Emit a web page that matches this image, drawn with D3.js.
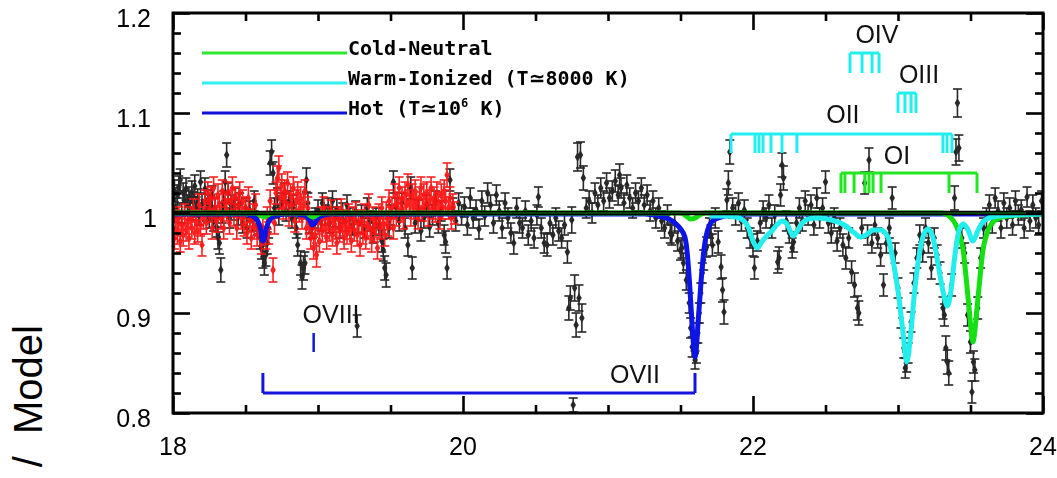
<!DOCTYPE html>
<html>
<head>
<meta charset="utf-8">
<script src="https://cdn.jsdelivr.net/npm/d3@7"></script>
<style>
  html, body { margin: 0; padding: 0; background: #fff; }
  svg { display: block; }
</style>
</head>
<body>
<svg id="chart" width="1057" height="478"></svg>
<script>
// ---- Observed ratio points: [wavelength (Å), data/model, 1-sigma error] ----
const obsBlack = [
[18.00,1.015,.010],[18.01,1.022,.011],[18.02,1.005,.010],[18.03,1.018,.010],[18.04,1.026,.011],[18.05,1.033,.011],[18.06,1.000,.010],[18.07,1.020,.010],[18.08,1.012,.010],[18.09,1.024,.011],
[18.10,1.008,.010],[18.11,1.016,.010],[18.12,1.003,.010],[18.13,1.021,.011],[18.14,1.011,.010],[18.15,1.027,.011],[18.16,1.006,.010],[18.17,1.014,.010],[18.18,0.998,.010],[18.19,1.031,.011],
[18.20,1.009,.010],[18.22,1.024,.011],[18.23,1.002,.010],[18.24,1.013,.010],[18.25,0.995,.010],[18.26,1.008,.010],[18.27,1.017,.010],[18.28,0.992,.010],[18.29,1.005,.010],[18.30,0.986,.010],
[18.31,0.975,.011],[18.32,0.970,.011],[18.33,0.943,.012],[18.34,1.000,.010],[18.35,1.012,.010],[18.36,1.031,.011],[18.37,1.058,.012],[18.38,1.020,.010],[18.39,0.995,.010],[18.40,1.008,.010],
[18.42,1.003,.010],[18.43,1.015,.010],[18.45,0.998,.010],[18.46,1.010,.010],[18.48,0.990,.010],[18.50,1.005,.010],[18.51,0.985,.010],[18.53,1.002,.010],[18.55,0.992,.010],[18.56,1.012,.010],
[18.58,0.988,.010],[18.60,0.975,.011],[18.61,0.965,.011],[18.62,0.956,.011],[18.63,0.950,.012],[18.64,0.958,.011],[18.65,0.970,.011],[18.66,0.985,.010],[18.67,1.050,.012],[18.68,1.061,.012],
[18.69,1.040,.011],[18.70,1.005,.010],[18.72,1.015,.010],[18.73,0.998,.010],[18.75,1.010,.010],[18.77,1.020,.010],[18.78,1.002,.010],[18.80,1.012,.010],[18.82,0.995,.010],[18.83,1.008,.010],
[18.85,0.985,.010],[18.86,0.968,.011],[18.88,0.950,.012],[18.89,0.936,.012],[18.90,0.945,.012],[18.91,0.950,.011],[18.92,1.033,.012],[18.93,1.010,.010],[18.94,0.990,.010],[18.96,0.985,.010],
[18.98,0.995,.010],[19.00,1.003,.010],[19.02,0.992,.010],[19.03,1.010,.010],[19.05,0.998,.010],[19.07,1.005,.010],[19.08,0.990,.010],[19.10,1.012,.010],[19.12,0.996,.010],[19.13,1.004,.010],
[19.15,0.985,.010],[19.17,1.000,.010],[19.19,0.992,.010],[19.20,1.008,.010],[19.22,0.995,.010],[19.24,0.988,.010],[19.26,1.002,.010],[19.27,0.887,.011],[19.28,0.990,.010],[19.30,0.998,.010],
[19.32,0.985,.010],[19.34,1.005,.010],[19.36,0.992,.010],[19.38,0.980,.010],[19.40,0.995,.010],[19.42,0.988,.010],[19.44,0.972,.011],[19.45,0.963,.011],[19.46,0.945,.012],[19.47,0.938,.012],
[19.49,0.985,.010],[19.50,0.998,.010],[19.52,1.031,.011],[19.54,1.005,.010],[19.56,0.992,.010],[19.58,1.010,.010],[19.60,0.985,.010],[19.62,0.968,.011],[19.64,1.025,.011],[19.65,0.945,.011],
[19.67,0.990,.010],[19.69,1.003,.010],[19.71,0.982,.010],[19.73,0.995,.010],[19.75,1.008,.010],[19.77,0.986,.010],[19.79,0.998,.010],[19.81,1.012,.010],[19.83,0.990,.010],[19.85,1.002,.010],
[19.87,0.978,.010],[19.88,0.971,.011],[19.89,0.945,.011],[19.91,1.033,.011],[19.93,1.005,.010],[19.95,0.992,.010],[19.97,1.010,.010],[19.99,0.998,.010],[20.01,1.006,.010],[20.03,0.988,.010],
[20.05,1.015,.010],[20.07,0.995,.010],[20.09,1.003,.010],[20.11,0.984,.010],[20.13,1.012,.010],[20.15,0.997,.010],[20.17,1.020,.010],[20.19,1.008,.010],[20.21,0.990,.010],[20.23,1.018,.010],
[20.25,1.002,.010],[20.27,0.985,.010],[20.29,1.010,.010],[20.31,0.995,.010],[20.33,0.980,.010],[20.35,0.970,.011],[20.37,1.005,.010],[20.39,0.990,.010],[20.41,0.985,.010],[20.43,1.002,.010],
[20.45,0.978,.010],[20.47,0.992,.010],[20.49,0.975,.010],[20.51,0.998,.010],[20.52,1.016,.010],[20.54,0.985,.010],[20.56,0.970,.010],[20.58,0.968,.011],[20.60,0.990,.010],[20.62,0.978,.010],
[20.64,0.995,.010],[20.66,0.982,.010],[20.68,0.975,.010],[20.70,0.988,.010],[20.72,0.961,.011],[20.73,0.905,.012],[20.74,0.915,.012],[20.75,0.993,.013],[20.76,0.808,.007],[20.77,0.925,.013],
[20.78,0.888,.012],[20.79,1.056,.014],[20.80,0.915,.013],[20.81,1.058,.013],[20.82,0.895,.014],[20.83,1.035,.012],[20.85,1.005,.010],[20.87,1.012,.010],[20.89,1.000,.010],[20.91,1.020,.010],
[20.93,1.008,.010],[20.95,1.025,.010],[20.97,1.012,.010],[20.99,1.030,.010],[21.01,1.015,.010],[21.03,1.022,.010],[21.05,1.032,.011],[21.07,1.018,.010],[21.08,1.038,.011],[21.09,1.025,.010],
[21.11,1.010,.010],[21.13,1.028,.010],[21.15,1.015,.010],[21.17,1.005,.010],[21.19,1.020,.010],[21.21,1.012,.010],[21.23,1.025,.010],[21.25,1.008,.010],[21.27,1.018,.010],[21.29,1.002,.010],
[21.31,1.012,.010],[21.33,0.995,.010],[21.35,1.005,.010],[21.37,0.992,.010],[21.39,0.985,.010],[21.41,0.998,.010],[21.43,0.980,.010],[21.44,0.978,.010],[21.46,0.990,.010],[21.48,0.972,.010],
[21.50,0.963,.010],[21.51,0.965,.010],[21.52,0.950,.010],[21.54,0.933,.010],[21.56,0.910,.010],[21.57,0.885,.010],[21.58,0.866,.010],[21.60,0.853,.009],[21.61,0.860,.010],[21.62,0.880,.010],
[21.63,0.900,.010],[21.64,0.920,.010],[21.65,0.940,.010],[21.66,0.953,.010],[21.68,0.966,.010],[21.70,0.985,.010],[21.71,0.978,.010],[21.72,0.968,.011],[21.74,0.995,.010],[21.76,0.971,.011],
[21.78,0.946,.012],[21.79,0.923,.012],[21.80,0.901,.012],[21.82,1.013,.011],[21.83,1.030,.012],[21.84,1.061,.012],[21.86,1.005,.010],[21.88,0.998,.010],[21.90,1.010,.010],[21.92,0.992,.010],
[21.94,1.003,.010],[21.96,0.985,.010],[21.98,0.975,.010],[22.00,0.968,.011],[22.01,0.945,.011],[22.03,0.972,.010],[22.05,0.990,.010],[22.07,1.002,.010],[22.09,0.995,.010],[22.11,1.008,.010],
[22.13,0.985,.010],[22.15,0.998,.010],[22.17,0.951,.011],[22.18,0.955,.011],[22.19,1.018,.011],[22.20,1.048,.012],[22.21,1.035,.012],[22.23,0.992,.010],[22.25,0.980,.010],[22.27,0.965,.010],
[22.28,0.971,.010],[22.30,0.990,.010],[22.32,1.005,.010],[22.34,0.992,.010],[22.36,1.012,.010],[22.38,0.998,.010],[22.40,1.008,.010],[22.42,0.988,.010],[22.44,1.015,.010],[22.46,0.995,.010],
[22.48,1.005,.010],[22.50,1.031,.011],[22.52,0.990,.010],[22.54,0.980,.010],[22.56,0.995,.010],[22.58,0.972,.010],[22.60,0.985,.010],[22.62,0.968,.011],[22.64,0.955,.011],[22.66,0.975,.010],
[22.68,0.941,.011],[22.70,0.928,.012],[22.72,0.905,.012],[22.73,0.900,.012],[22.75,0.985,.010],[22.77,1.030,.011],[22.79,0.978,.010],[22.80,1.053,.012],[22.82,0.970,.010],[22.84,0.988,.010],
[22.86,0.975,.010],[22.88,0.958,.011],[22.90,0.928,.011],[22.92,0.970,.010],[22.94,0.985,.010],[22.96,1.015,.011],[22.98,0.960,.010],[23.00,0.925,.010],[23.02,0.895,.010],[23.04,0.865,.010],
[23.05,0.845,.010],[23.06,0.851,.010],[23.07,0.860,.010],[23.09,0.891,.010],[23.11,0.930,.010],[23.13,0.955,.010],[23.15,0.978,.010],[23.17,0.961,.010],[23.19,0.985,.010],[23.21,0.970,.010],
[23.23,0.945,.011],[23.25,0.975,.010],[23.27,0.958,.010],[23.29,0.940,.011],[23.31,0.905,.011],[23.32,0.898,.011],[23.33,0.865,.012],[23.34,0.851,.012],[23.35,0.840,.012],[23.37,0.928,.011],
[23.39,1.015,.012],[23.40,1.061,.013],[23.41,1.110,.014],[23.42,1.065,.013],[23.44,0.975,.010],[23.46,0.960,.010],[23.48,0.898,.011],[23.50,0.871,.011],[23.51,0.821,.011],[23.52,0.851,.011],
[23.53,0.843,.011],[23.55,0.905,.011],[23.57,0.955,.010],[23.59,0.985,.010],[23.61,0.995,.010],[23.63,1.008,.010],[23.65,0.990,.010],[23.67,1.015,.010],[23.69,1.002,.010],[23.71,0.985,.010],
[23.73,1.010,.010],[23.75,0.995,.010],[23.77,1.005,.010],[23.79,0.988,.010],[23.81,1.012,.010],[23.83,0.998,.010],[23.85,1.003,.010],[23.87,0.985,.010],[23.89,1.016,.010],[23.91,0.992,.010],
[23.93,1.008,.010],[23.95,0.995,.010],[23.97,0.988,.010],[23.99,1.012,.010]
];

const obsRed = [
[18.00,0.985,.011],[18.01,0.975,.011],[18.02,0.992,.011],[18.03,0.980,.011],[18.04,0.995,.011],[18.05,0.972,.011],[18.06,0.988,.011],[18.07,0.978,.011],[18.08,0.998,.011],[18.09,0.983,.011],
[18.10,0.990,.011],[18.11,0.975,.011],[18.12,0.995,.011],[18.13,0.985,.011],[18.14,1.003,.011],[18.15,0.980,.011],[18.16,0.992,.011],[18.17,0.982,.011],[18.18,1.008,.011],[18.19,0.988,.011],
[18.20,0.968,.011],[18.21,0.995,.011],[18.22,1.012,.011],[18.23,0.990,.011],[18.24,1.020,.011],[18.25,1.002,.011],[18.26,1.015,.011],[18.27,0.985,.011],[18.28,1.025,.011],[18.29,1.005,.011],
[18.30,0.992,.011],[18.31,1.018,.011],[18.32,1.008,.011],[18.33,0.995,.011],[18.34,1.022,.011],[18.35,0.985,.011],[18.36,1.010,.011],[18.37,1.003,.011],[18.38,1.020,.011],[18.39,0.990,.011],
[18.40,1.012,.011],[18.41,1.025,.011],[18.42,0.998,.011],[18.43,1.015,.011],[18.44,0.985,.011],[18.45,1.008,.011],[18.46,1.020,.011],[18.47,0.995,.011],[18.48,1.012,.011],[18.49,0.988,.011],
[18.50,1.005,.011],[18.51,0.980,.011],[18.52,1.015,.011],[18.53,0.992,.011],[18.54,0.975,.011],[18.55,0.998,.011],[18.56,0.985,.011],[18.57,1.008,.011],[18.58,0.978,.011],[18.59,0.990,.011],
[18.61,0.970,.011],[18.62,0.985,.011],[18.64,0.975,.011],[18.65,0.995,.011],[18.66,0.980,.011],[18.67,1.012,.011],[18.69,0.943,.012],[18.70,0.990,.011],[18.71,1.020,.011],[18.72,1.035,.012],
[18.73,1.045,.012],[18.74,1.015,.011],[18.75,1.028,.011],[18.76,1.005,.011],[18.77,1.022,.011],[18.78,1.010,.011],[18.79,1.030,.011],[18.80,0.998,.011],[18.81,1.018,.011],[18.82,1.008,.011],
[18.83,1.025,.011],[18.84,0.992,.011],[18.85,1.012,.011],[18.86,1.020,.011],[18.87,1.002,.011],[18.88,1.015,.011],[18.89,0.995,.011],[18.90,1.008,.011],[18.91,1.022,.011],[18.92,0.985,.011],
[18.93,1.005,.011],[18.94,0.990,.011],[18.95,0.975,.011],[18.96,0.985,.011],[18.97,0.965,.011],[18.98,0.978,.011],[18.99,0.958,.012],[19.00,0.990,.011],[19.01,0.972,.011],[19.02,0.995,.011],
[19.03,0.982,.011],[19.04,1.005,.011],[19.05,0.988,.011],[19.06,0.975,.011],[19.07,0.995,.011],[19.08,0.983,.011],[19.09,1.002,.011],[19.10,0.978,.011],[19.11,0.992,.011],[19.12,0.985,.011],
[19.13,0.970,.011],[19.14,0.995,.011],[19.15,0.982,.011],[19.16,1.003,.011],[19.17,0.988,.011],[19.18,0.975,.011],[19.19,0.992,.011],[19.20,0.980,.011],[19.21,0.998,.011],[19.22,0.985,.011],
[19.23,0.972,.011],[19.24,0.995,.011],[19.25,0.983,.011],[19.26,1.000,.011],[19.27,0.978,.011],[19.28,0.990,.011],[19.29,0.968,.011],[19.30,0.992,.011],[19.31,0.980,.011],[19.32,0.998,.011],
[19.33,0.975,.011],[19.34,0.988,.011],[19.35,1.008,.011],[19.36,0.985,.011],[19.37,0.972,.011],[19.38,0.995,.011],[19.39,0.982,.011],[19.40,0.990,.011],[19.41,0.965,.011],[19.42,0.998,.011],
[19.43,0.985,.011],[19.44,1.005,.011],[19.45,0.990,.011],[19.46,0.978,.011],[19.47,1.000,.011],[19.48,0.988,.011],[19.49,1.012,.011],[19.50,0.995,.011],[19.51,1.005,.011],[19.52,0.985,.011],
[19.53,1.018,.011],[19.54,0.998,.011],[19.55,1.010,.011],[19.56,1.025,.011],[19.57,1.002,.011],[19.58,1.015,.011],[19.59,0.995,.011],[19.60,1.020,.011],[19.61,1.008,.011],[19.62,1.028,.011],
[19.63,1.012,.011],[19.64,0.998,.011],[19.65,1.018,.011],[19.66,1.005,.011],[19.67,1.022,.011],[19.68,1.010,.011],[19.69,0.995,.011],[19.70,1.015,.011],[19.71,1.025,.011],[19.72,1.003,.011],
[19.73,1.018,.011],[19.74,1.008,.011],[19.75,1.020,.011],[19.76,0.998,.011],[19.77,1.012,.011],[19.78,1.025,.011],[19.79,1.005,.011],[19.80,1.015,.011],[19.81,1.002,.011],[19.82,1.020,.011],
[19.83,1.010,.011],[19.84,0.995,.011],[19.85,1.018,.011],[19.86,1.005,.011],[19.87,1.022,.011],[19.88,1.012,.011],[19.89,1.038,.012],[19.90,1.005,.011],[19.91,1.015,.011],[19.92,0.995,.011],
[19.93,1.008,.011],[19.94,1.000,.011]
];

// ---- Model components: [wavelength (Å), transmission] ----
const hotModel = [
[18.00,0.999],[18.50,0.999],[18.55,0.997],[18.58,0.993],[18.60,0.986],[18.61,0.979],[18.62,0.972],[18.63,0.974],[18.64,0.982],[18.655,0.990],
[18.68,0.995],[18.72,0.998],[18.80,0.999],[18.90,0.998],[18.93,0.995],[18.95,0.991],[18.96,0.988],[18.975,0.989],[18.99,0.993],[19.02,0.997],
[19.08,0.999],[21.25,0.999],[21.35,0.997],[21.42,0.994],[21.47,0.989],[21.50,0.984],[21.53,0.976],[21.545,0.962],[21.56,0.935],[21.575,0.900],
[21.59,0.868],[21.60,0.856],[21.61,0.866],[21.62,0.888],[21.635,0.918],[21.65,0.946],[21.665,0.967],[21.68,0.979],[21.70,0.988],[21.73,0.993],
[21.78,0.996],[21.86,0.998],[22.00,0.999],[24.00,0.999]
];
const warmModel = [
[21.70,0.997],[21.80,0.997],[21.88,0.996],[21.93,0.993],[21.97,0.985],[22.00,0.972],[22.03,0.965],[22.06,0.971],[22.10,0.978],[22.13,0.982],
[22.17,0.989],[22.20,0.992],[22.235,0.989],[22.26,0.981],[22.278,0.977],[22.30,0.981],[22.34,0.990],[22.38,0.994],[22.45,0.995],[22.54,0.993],
[22.63,0.988],[22.70,0.980],[22.74,0.976],[22.78,0.978],[22.83,0.983],[22.88,0.983],[22.93,0.976],[22.965,0.953],[23.00,0.922],[23.035,0.880],
[23.06,0.851],[23.085,0.875],[23.11,0.915],[23.14,0.952],[23.17,0.975],[23.205,0.984],[23.24,0.976],[23.275,0.950],[23.31,0.922],[23.34,0.907],
[23.365,0.922],[23.39,0.955],[23.42,0.982],[23.45,0.989],[23.48,0.984],[23.517,0.972],[23.55,0.982],[23.585,0.991],[23.65,0.996],[23.80,0.998],
[24.00,0.999]
];
const coldModel = [
[18.00,1.000],[18.57,1.000],[18.61,0.997],[18.63,0.996],[18.65,0.998],[18.70,1.000],[18.92,1.000],[18.95,0.997],[18.97,0.996],[18.99,0.998],
[19.03,1.000],[21.50,1.000],[21.54,0.997],[21.57,0.994],[21.60,0.995],[21.63,0.998],[21.67,1.000],[23.30,1.000],[23.36,0.996],[23.40,0.988],
[23.43,0.975],[23.45,0.962],[23.47,0.935],[23.49,0.905],[23.505,0.882],[23.517,0.871],[23.53,0.882],[23.545,0.905],[23.565,0.935],[23.585,0.962],
[23.61,0.978],[23.65,0.990],[23.72,0.996],[23.85,0.998],[24.00,0.999]
];
const continuum = [[18.00,1.000],[24.00,1.000]];

// ---- Line identifications: wavelengths (Å) and bracket levels ----
const ovii = [18.62, 21.60];
const oviii = [18.97];
const oiv = [22.669, 22.752, 22.821, 22.869];
const oiii = [23.000, 23.048, 23.090, 23.124];
const oii = [21.848, 22.014, 22.041, 22.069, 22.124, 22.200, 22.303, 23.310, 23.338, 23.372];
const oi = [22.607, 22.634, 22.697, 22.772, 22.800, 22.828, 22.883, 23.352, 23.545];

const ionLabels = ["OVII", "OVIII", "OIV", "OIII", "OII", "OI"];
const ionLabelAt = [[21.186, 0.830], [19.090, 0.890], [22.855, 1.170], [23.145, 1.130], [22.620, 1.090], [22.993, 1.049]];

// ---- Axes ----
const xMajor = [18, 20, 22, 24];
const xMinor = [18.5, 19, 19.5, 20.5, 21, 21.5, 22.5, 23, 23.5];
const yMajor = [0.8, 0.9, 1.0, 1.1, 1.2];
const yMajorLabels = ["0.8", "0.9", "1", "1.1", "1.2"];
const yMinor = [0.82,0.84,0.86,0.88,0.92,0.94,0.96,0.98,1.02,1.04,1.06,1.08,1.12,1.14,1.16,1.18];

const legendNames = ["Cold-Neutral", "Warm-Ionized (T", "Hot (T"];
const legendTemps = ["", "8000 K)", "10"];
const legendColors = ["#2ee82e", "#2ef0f0", "#1010d8"];

// ---------------------------------------------------------------
const svg = d3.select("#chart");
const L = 173, R = 1043, T = 13, B = 413;
const x = d3.scaleLinear().domain([18, 24]).range([L, R]);
const y = d3.scaleLinear().domain([0.8, 1.2]).range([B, T]);

svg.append("rect").attr("width", 1057).attr("height", 478).attr("fill", "#fff");

svg.append("defs").append("clipPath").attr("id", "plotClip")
  .append("rect").attr("x", L).attr("y", T).attr("width", R - L).attr("height", B - T);

const plot = svg.append("g").attr("clip-path", "url(#plotClip)");

// error-bar points
function drawSeries(data, color, opacity, sw) {
  const g = plot.append("g").attr("stroke", color).attr("fill", color).attr("opacity", opacity);
  const cap = 4.5;
  const pts = g.selectAll("g.pt").data(data).join("g").attr("class", "pt");
  pts.append("line")
    .attr("x1", d => x(d[0])).attr("x2", d => x(d[0]))
    .attr("y1", d => y(d[1] - d[2])).attr("y2", d => y(d[1] + d[2]))
    .attr("stroke-width", sw);
  pts.append("line")
    .attr("x1", d => x(d[0]) - cap).attr("x2", d => x(d[0]) + cap)
    .attr("y1", d => y(d[1] + d[2])).attr("y2", d => y(d[1] + d[2]))
    .attr("stroke-width", sw);
  pts.append("line")
    .attr("x1", d => x(d[0]) - cap).attr("x2", d => x(d[0]) + cap)
    .attr("y1", d => y(d[1] - d[2])).attr("y2", d => y(d[1] - d[2]))
    .attr("stroke-width", sw);
  pts.append("path")
    .attr("transform", d => `translate(${x(d[0])},${y(d[1])})`)
    .attr("d", d3.symbol(d3.symbolDiamond, 26)())
    .attr("stroke", "none");
}
drawSeries(obsBlack, "#101010", 0.9, 1.6);
drawSeries(obsRed, "#ff1414", 0.95, 1.6);

// model curves
const line = d3.line().x(d => x(d[0])).y(d => y(d[1])).curve(d3.curveMonotoneX);
plot.append("path").datum(hotModel).attr("d", line)
  .attr("fill", "none").attr("stroke", "#0c14e6").attr("stroke-width", 5).attr("stroke-linejoin", "round");
plot.append("path").datum(coldModel).attr("d", line)
  .attr("fill", "none").attr("stroke", "#14e014").attr("stroke-width", 5).attr("stroke-linejoin", "round");
plot.append("path").datum(warmModel).attr("d", line)
  .attr("fill", "none").attr("stroke", "#22eeee").attr("stroke-width", 5).attr("stroke-linejoin", "round");
plot.append("path").datum(continuum).attr("d", line)
  .attr("fill", "none").attr("stroke", "#000").attr("stroke-width", 4.5);
plot.append("path").datum(continuum).attr("d", line)
  .attr("fill", "none").attr("stroke", "#0b5a12").attr("stroke-width", 1.4);

// identification brackets
function bracket(waves, level, tickEnd, color) {
  const g = svg.append("g").attr("stroke", color).attr("stroke-width", 3).attr("fill", "none");
  g.append("line").attr("x1", x(d3.min(waves))).attr("x2", x(d3.max(waves)))
    .attr("y1", y(level)).attr("y2", y(level));
  g.selectAll("line.t").data(waves).join("line").attr("class", "t")
    .attr("x1", d => x(d)).attr("x2", d => x(d))
    .attr("y1", y(level)).attr("y2", y(tickEnd));
}
bracket(ovii, 0.820, 0.840, "#1414e0");
bracket(oiv, 1.160, 1.140, "#22eeee");
bracket(oiii, 1.120, 1.100, "#22eeee");
bracket(oii, 1.079, 1.060, "#22eeee");
bracket(oi, 1.040, 1.020, "#22e622");
svg.append("line").attr("stroke", "#1414e0").attr("stroke-width", 2.5)
  .attr("x1", x(oviii[0])).attr("x2", x(oviii[0]))
  .attr("y1", y(0.861)).attr("y2", y(0.880));

svg.selectAll("text.ion").data(ionLabels).join("text").attr("class", "ion")
  .attr("x", (d, i) => x(ionLabelAt[i][0]))
  .attr("y", (d, i) => y(ionLabelAt[i][1]))
  .attr("text-anchor", "middle")
  .attr("font-family", "'Liberation Sans', Arial, sans-serif")
  .attr("font-size", 25).attr("fill", "#111")
  .text(d => d);

// legend
const lg = svg.append("g");
legendNames.forEach((name, i) => {
  const yy = 53 + i * 30;
  lg.append("line").attr("x1", 202).attr("x2", 347).attr("y1", yy).attr("y2", yy)
    .attr("stroke", legendColors[i]).attr("stroke-width", 3);
  const t = lg.append("text").attr("x", 348).attr("y", yy + 2)
    .attr("font-family", "'DejaVu Sans Mono', 'Liberation Mono', monospace")
    .attr("font-weight", "bold").attr("font-size", 20).attr("fill", "#000")
    .text(name);
  if (i > 0) {
    t.append("tspan").attr("font-family", "'DejaVu Sans', sans-serif").text("\u2243");
    t.append("tspan").text(legendTemps[i]);
  }
  if (i === 2) {
    t.append("tspan").attr("font-size", 12).attr("dy", -8).text("6");
    t.append("tspan").attr("dy", 8).text(" K)");
  }
});

// axes: ticks drawn inward on all four sides
function ticks(axisGen, values, size, tx, ty) {
  const g = svg.append("g").attr("transform", `translate(${tx},${ty})`)
    .call(axisGen.tickValues(values).tickSize(-size).tickFormat(""));
  g.select(".domain").remove();
  g.selectAll(".tick line").attr("stroke", "#000").attr("stroke-width", 2.6);
}
ticks(d3.axisBottom(x), xMajor, 17, 0, B);
ticks(d3.axisBottom(x), xMinor, 8, 0, B);
ticks(d3.axisTop(x), xMajor, 17, 0, T);
ticks(d3.axisTop(x), xMinor, 8, 0, T);
ticks(d3.axisLeft(y), yMajor, 17, L, 0);
ticks(d3.axisLeft(y), yMinor, 8, L, 0);
ticks(d3.axisRight(y), yMajor, 17, R, 0);
ticks(d3.axisRight(y), yMinor, 8, R, 0);

svg.append("rect").attr("x", L).attr("y", T).attr("width", R - L).attr("height", B - T)
  .attr("fill", "none").attr("stroke", "#000").attr("stroke-width", 3);

svg.selectAll("text.xl").data(xMajor).join("text").attr("class", "xl")
  .attr("x", d => x(d)).attr("y", 455).attr("text-anchor", "middle")
  .attr("font-family", "'Liberation Sans', Arial, sans-serif").attr("font-size", 25).attr("fill", "#000")
  .text(d => d);
// the lone "1" is set a little further right, as on the printed axis
svg.selectAll("text.yl").data(yMajor).join("text").attr("class", "yl")
  .attr("x", (d, i) => yMajorLabels[i].length === 1 ? 157 : 151)
  .attr("y", d => y(d) + 13.5).attr("text-anchor", "end")
  .attr("font-family", "'Liberation Sans', Arial, sans-serif").attr("font-size", 25).attr("fill", "#000")
  .text((d, i) => yMajorLabels[i]);

svg.append("text").attr("transform", "translate(42,325) rotate(-90)")
  .attr("text-anchor", "end")
  .attr("font-family", "'Liberation Sans', Arial, sans-serif").attr("font-size", 40).attr("fill", "#000")
  .text("/\u00A0\u00A0Model");
</script>
</body>
</html>
